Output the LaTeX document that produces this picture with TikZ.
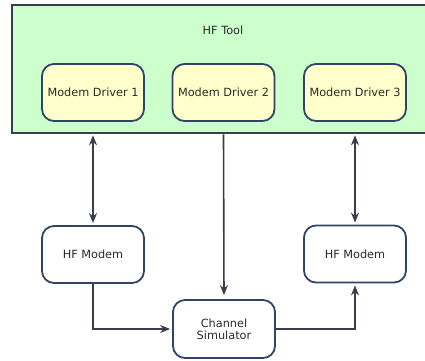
\documentclass[tikz,border=0pt]{standalone}
\usepackage{fontspec}
\setmainfont{DejaVu Sans}
\usetikzlibrary{arrows.meta,positioning}
\definecolor{toolgreen}{HTML}{CCFFCC}
\definecolor{drvyellow}{HTML}{FFFFCC}
\definecolor{edgeblue}{HTML}{2F4466}
\definecolor{linegray}{HTML}{3A3D4A}
\definecolor{txtgray}{HTML}{2A2A2A}
\begin{document}
\begin{tikzpicture}[
      x=1pt,y=-1pt,font=\fontsize{11.3}{12}\selectfont,text=txtgray,
      blk/.style={draw=edgeblue,line width=1.8pt,rounded corners=12pt,
        minimum width=102pt,minimum height=57pt,inner sep=1pt,align=center},
      drv/.style={blk,fill=drvyellow},
      mdm/.style={blk,fill=white},
      link/.style={draw=linegray,line width=1.6pt,-{Stealth[length=10pt,width=8pt]}},
      both/.style={link,{Stealth[length=10pt,width=8pt]}-{Stealth[length=10pt,width=8pt]}}
    ]
    \useasboundingbox (0,0) rectangle (425,360);
    \clip (0,0) rectangle (425,360);
    \node [draw=linegray,line width=2.5pt,fill=toolgreen,minimum width=420pt,
      minimum height=128pt,inner sep=0pt] (tool) at (222,69) {};
    \node (title) at (223,30) {HF Tool};
    \node [drv] (drv1) at (93,92.5)    {Modem Driver 1};
    \node [drv] (drv2) at (223.5,92.5) {Modem Driver 2};
    \node [drv] (drv3) at (355,92.5)   {Modem Driver 3};
    \node [mdm] (mdm1) at (93,254.5)   {HF Modem};
    \node [mdm] (mdm2) at (355,254)    {HF Modem};
    \node [mdm,minimum height=58pt] (chan) at (224,329) {Channel\\Simulator};
    % links
    \draw [both,shorten <=1pt,shorten >=2pt] (drv1 |- tool.south) -- (mdm1.north);
    \draw [both,shorten <=1pt,shorten >=2pt] (drv3 |- tool.south) -- (mdm2.north);
    \draw [link,shorten >=4pt] (drv2 |- tool.south) -- (chan.north);
    \draw [link,shorten >=2pt] (mdm1.south) |- (chan.west);
    \draw [link,shorten >=2pt] (chan.east) -| (mdm2.south);
  \end{tikzpicture}
\end{document}
